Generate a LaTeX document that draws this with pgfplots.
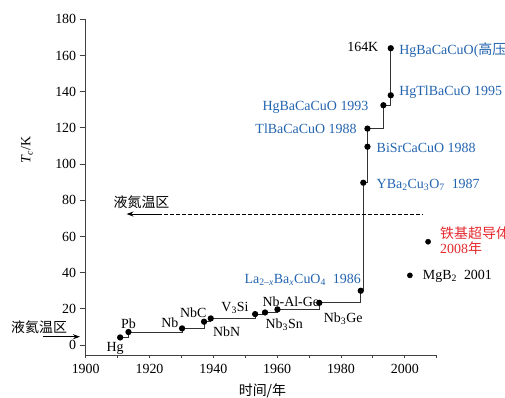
\documentclass[border=0pt]{standalone}
\usepackage{pgfplots}
\pgfplotsset{compat=1.18}
\usepackage{fontspec}
\setmainfont{Liberation Serif}
\newfontfamily\cjk{Noto Sans CJK SC}
\usetikzlibrary{arrows.meta}
\definecolor{lblue}{RGB}{35,100,175}
\definecolor{lred}{RGB}{228,40,45}
\begin{document}
\begin{tikzpicture}[font=\fontsize{14}{16}\selectfont]
\begin{axis}[
  at={(0,0)}, anchor=south west,
  scale only axis, width=351bp, height=335.7bp,
  xmin=1900, xmax=2010, ymin=-5.5, ymax=180,
  axis lines*=left,
  axis line style={black!75, line width=0.8bp},
  xtick={1900,1910,...,2010},
  xticklabels={1900,,1920,,1940,,1960,,1980,,2000,},
  ytick={0,20,...,180},
  tick align=outside,
  major tick length=6bp,
  xtick style={/pgfplots/major tick length=2.5bp},
  tick style={black!75, line width=0.8bp},
  /pgf/number format/assume math mode=true,
  clip=false,
]
\addplot[const plot, black!80, line width=1bp, mark=*, mark size=2.6bp,
  mark options={fill=black, draw=black}] coordinates {
  (1910.8,4.2) (1913.4,7.2) (1930.2,9.2) (1937.1,12.9) (1939.2,14.7)
  (1953.1,17.1) (1956.2,18.0) (1960.1,19.7) (1973.2,23.3) (1986.2,30)
  (1987.0,89.7) (1988.3,109.6) (1988.3,119.6) (1993.3,132.5) (1995.6,138)
  (1995.6,164)
};
\addplot[only marks, mark=*, mark size=2.6bp, mark options={fill=black, draw=black}]
  coordinates {(2001.6,38.5) (2007.3,57.1)};

% reference lines
\draw[dash pattern=on 4bp off 2bp, line width=0.7bp] (axis cs:1922.8,72.4) -- (axis cs:2005.8,72.4);
\draw[-{Stealth[length=7bp,width=5bp]}, line width=1bp] (axis cs:1922.8,72.4) -- (axis cs:1912.8,72.4);
\draw[-{Stealth[length=7bp,width=5bp]}, line width=0.9bp] (axis cs:1886.7,4.6) -- (axis cs:1898.2,4.6);

% black labels
\node at (axis cs:1909.2,-1.6) {Hg};
\node at (axis cs:1913.4,12.0) {Pb};
\node at (axis cs:1926.4,12.3) {Nb};
\node at (axis cs:1933.7,18.1) {NbC};
\node at (axis cs:1944.2,7.4) {NbN};
\node at (axis cs:1946.8,20.3) {V\textsubscript{3}Si};
\node at (axis cs:1962.2,11.1) {Nb\textsubscript{3}Sn};
\node at (axis cs:1964.3,23.9) {Nb-Al-Ge};
\node at (axis cs:1980.7,14.5) {Nb\textsubscript{3}Ge};
\node[anchor=east] at (axis cs:1992.8,164.9) {164K};
\node[anchor=west] at (axis cs:2004.6,38.1) {MgB\textsubscript{2}\ \ 2001};

% blue labels
\node[lblue] at (axis cs:1968.0,35.9) {La\textsubscript{2\textendash\textit{x}}Ba\textsubscript{\textit{x}}CuO\textsubscript{4}\ \ 1986};
\node[lblue, anchor=west] at (axis cs:1990.1,88.4) {YBa\textsubscript{2}Cu\textsubscript{3}O\textsubscript{7}\ \ 1987};
\node[lblue, anchor=west] at (axis cs:1990.1,108.7) {BiSrCaCuO 1988};
\node[lblue, anchor=east] at (axis cs:1986.0,119.6) {TlBaCaCuO 1988};
\node[lblue, anchor=east] at (axis cs:1989.7,131.2) {HgBaCaCuO 1993};
\node[lblue, anchor=west] at (axis cs:1997.2,140.0) {HgTlBaCuO 1995};
\node[lblue, anchor=west] at (axis cs:1997.2,163.1) {HgBaCaCuO({\cjk 高压})};

% red labels
\node[lred, anchor=west] at (axis cs:2010.0,61.9) {\cjk 铁基超导体};
\node[lred, anchor=west] at (axis cs:2010.0,53.8) {2008{\cjk 年}};

% zone labels
\node at (axis cs:1917.5,79.2) {\cjk 液氮温区};
\node at (axis cs:1885.4,9.95) {\cjk 液氦温区};

% axis labels
\node at (axis cs:1955.4,-25.2) {\cjk 时间/年};
\node[rotate=90] at (axis cs:1881.6,107.8) {\textit{T}\textsubscript{\textit{c}}/K};
\end{axis}
\pgfresetboundingbox
\path (-85.7bp,-43bp) rectangle (419.3bp,355bp);
\end{tikzpicture}
\end{document}
